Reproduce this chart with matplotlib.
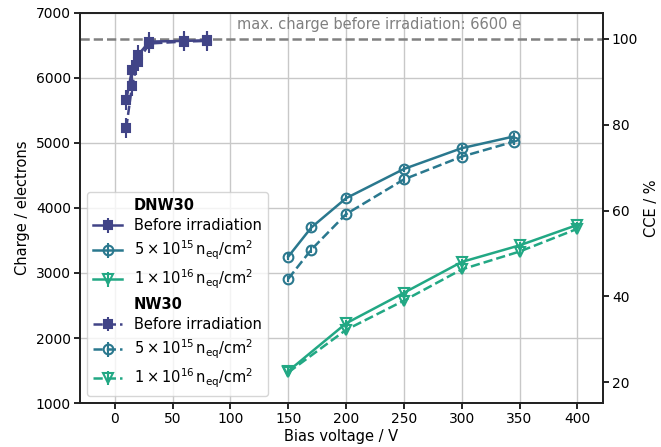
import numpy as np
import matplotlib
matplotlib.use("Agg")
import matplotlib.pyplot as plt
import seaborn as sns
from matplotlib.lines import Line2D

# data
MAX_CHARGE = 6600

# before irradiation
v_before = [10, 15, 20, 30, 60, 80]
q_dnw_before = [5660, 6130, 6350, 6560, 6570, 6580]
q_nw_before = [5230, 5880, 6250, 6530, 6560, 6570]
err_before = [150, 150, 150, 150, 150, 150]

# 5e15 neq/cm2
v_5e15 = [150, 170, 200, 250, 300, 345]
q_dnw_5e15 = [3250, 3700, 4150, 4600, 4920, 5100]
q_nw_5e15 = [2910, 3360, 3905, 4440, 4790, 5020]
err_5e15 = [50, 50, 50, 50, 50, 50]

# 1e16 neq/cm2
v_1e16 = [150, 200, 250, 300, 350, 400]
q_dnw_1e16 = [1490, 2225, 2695, 3170, 3425, 3740]
q_nw_1e16 = [1470, 2125, 2575, 3055, 3330, 3680]
err_1e16 = [50, 50, 50, 50, 50, 50]

labels = ["Before irradiation",
          r"$5\times10^{15}\,\mathrm{n_{eq}/cm^2}$",
          r"$1\times10^{16}\,\mathrm{n_{eq}/cm^2}$"]

colors = sns.color_palette("viridis", 4)[:3]

plt.rcParams['font.family'] = ['DejaVu Sans']
plt.rcParams['font.size'] = 10

fig = plt.figure(figsize=(6.61, 4.47), dpi=100)
ax = fig.add_axes([0.121, 0.0984, 0.791, 0.8726])

ax.grid(True, color='#c8c8c8', linewidth=1.0, zorder=0)
ax.set_axisbelow(True)

series = [
    (v_before, q_dnw_before, q_nw_before, err_before, 's', colors[0], colors[0], 6),
    (v_5e15, q_dnw_5e15, q_nw_5e15, err_5e15, 'o', colors[1], 'none', 7),
    (v_1e16, q_dnw_1e16, q_nw_1e16, err_1e16, 'v', colors[2], 'none', 7.5),
]

dnw_handles = []
nw_handles = []
for v, q_dnw, q_nw, err, mk, col, fc, ms in series:
    h1 = ax.errorbar(v, q_dnw, yerr=err, marker=mk, color=col, mfc=fc, ms=ms,
                     mew=1.5, lw=1.8, ls='-', elinewidth=1.5, capsize=0, zorder=3)
    h2 = ax.errorbar(v, q_nw, yerr=err, marker=mk, color=col, mfc=fc, ms=ms,
                     mew=1.5, lw=1.8, ls='--', elinewidth=1.5, capsize=0, zorder=3)
    dnw_handles.append(h1)
    nw_handles.append(h2)

ax.axhline(MAX_CHARGE, color='#808080', ls='--', lw=1.8, zorder=2)
ax.text(106, MAX_CHARGE + 110, "max. charge before irradiation: 6600 e",
        color='#808080', fontsize=10.5, va='bottom', ha='left', zorder=1)

ax.set_xlim(-30, 422)
ax.set_ylim(1000, 7000)
ax.set_xticks(np.arange(0, 401, 50))
ax.set_yticks(np.arange(1000, 7001, 1000))
ax.set_xlabel("Bias voltage / V", fontsize=10.5, labelpad=2)
ax.set_ylabel("Charge / electrons", fontsize=10.5, labelpad=4)

ax2 = ax.twinx()
ax2.set_ylim(1000 / MAX_CHARGE * 100, 7000 / MAX_CHARGE * 100)
ax2.set_yticks([20, 40, 60, 80, 100])
ax2.set_ylabel("CCE / %", fontsize=10.5, labelpad=4)

for a in (ax, ax2):
    for s in a.spines.values():
        s.set_color('#222222')
        s.set_linewidth(1.3)
    a.tick_params(direction='out', length=4, width=1.2, labelsize=10, pad=2.5)

blank = Line2D([], [], linestyle='none', marker='none')
handles = [blank] + dnw_handles + [blank] + nw_handles
leg_labels = ["DNW30"] + labels + ["NW30"] + labels
leg = ax.legend(handles, leg_labels, loc='lower left', fontsize=10.5,
                framealpha=0.8, handlelength=2.0, labelspacing=0.38)
for t in leg.get_texts():
    if t.get_text() in ("DNW30", "NW30"):
        t.set_fontweight('bold')

fig.savefig("out.png", dpi=100)
